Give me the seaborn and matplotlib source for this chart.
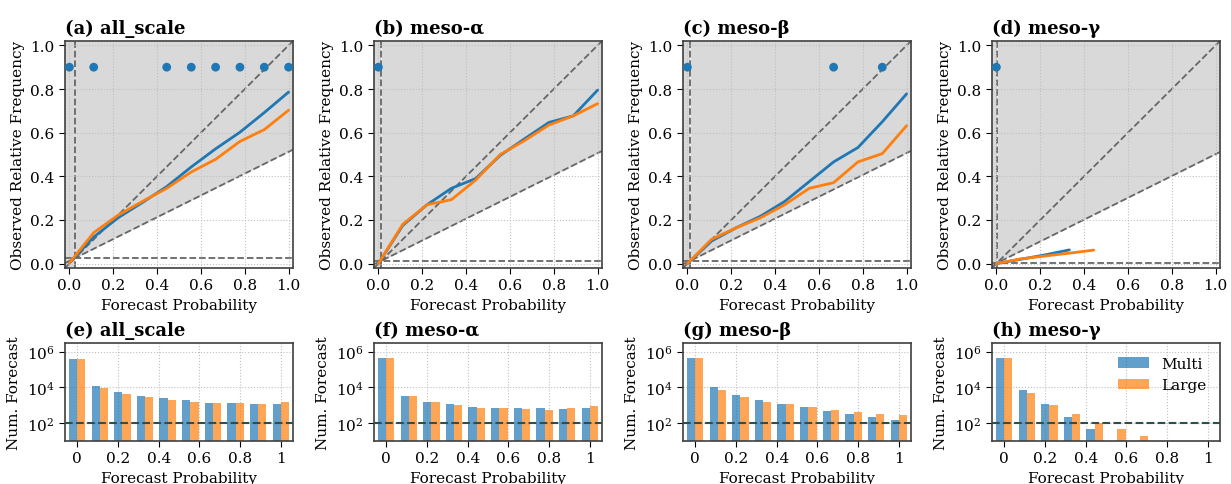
import numpy as np
import pandas as pd
import matplotlib
matplotlib.use("Agg")
import matplotlib.pyplot as plt
import seaborn as sns

sns.set_style("ticks")
plt.rcParams['font.family'] = ['DejaVu Serif']
plt.rcParams['mathtext.fontset'] = 'dejavuserif'
plt.rcParams['axes.axisbelow'] = 'line'
for k in ['text.color', 'axes.labelcolor', 'xtick.color', 'ytick.color']:
    plt.rcParams[k] = 'black'

# ---- data ----
panels = ["all_scale", "meso-α", "meso-β", "meso-γ"]
letters_top = ["(a)", "(b)", "(c)", "(d)"]
letters_bot = ["(e)", "(f)", "(g)", "(h)"]
prob_bins = [0.0, 0.111, 0.222, 0.333, 0.444, 0.556, 0.667, 0.778, 0.889, 1.0]
clim = [0.025, 0.012, 0.013, 0.003]

# observed relative frequency (reliability curves)
rel_multi_all = [0.003, 0.122, 0.21, 0.28, 0.353, 0.443, 0.526, 0.602, 0.692, 0.786]
rel_large_all = [0.003, 0.142, 0.222, 0.285, 0.345, 0.42, 0.478, 0.56, 0.614, 0.703]
rel_multi_alpha = [0.0, 0.175, 0.27, 0.345, 0.39, 0.496, 0.572, 0.647, 0.677, 0.795]
rel_large_alpha = [0.0, 0.18, 0.27, 0.293, 0.383, 0.5, 0.564, 0.635, 0.677, 0.733]
rel_multi_beta = [0.0, 0.104, 0.164, 0.217, 0.285, 0.376, 0.466, 0.532, 0.65, 0.778]
rel_large_beta = [0.0, 0.112, 0.164, 0.21, 0.27, 0.345, 0.371, 0.466, 0.504, 0.632]
rel_multi_gamma = [0.0, 0.02, 0.04, 0.063]
rel_large_gamma = [0.0, 0.022, 0.035, 0.048, 0.062]

# bins flagged with a dot
sig_all = [0.0, 0.111, 0.444, 0.556, 0.667, 0.778, 0.889, 1.0]
sig_alpha = [0.0]
sig_beta = [0.0, 0.667, 0.889]
sig_gamma = [0.0]

# number of forecasts per bin
cnt_multi_all = [4.0e5, 1.2e4, 5.6e3, 3.4e3, 2.4e3, 1.9e3, 1.4e3, 1.3e3, 1.1e3, 1.1e3]
cnt_large_all = [4.0e5, 8.7e3, 4.2e3, 2.8e3, 2.0e3, 1.55e3, 1.35e3, 1.3e3, 1.2e3, 1.6e3]
cnt_multi_alpha = [4.4e5, 3.4e3, 1.55e3, 1.1e3, 840, 740, 710, 710, 620, 710]
cnt_large_alpha = [4.4e5, 3.1e3, 1.55e3, 1.05e3, 740, 710, 590, 570, 680, 910]
cnt_multi_beta = [4.4e5, 1.0e4, 3.8e3, 2.0e3, 1.2e3, 810, 500, 310, 210, 148]
cnt_large_beta = [4.4e5, 7.4e3, 2.9e3, 1.6e3, 1.2e3, 810, 550, 440, 310, 295]
cnt_multi_gamma = [4.4e5, 6.8e3, 1.1e3, 230, 44, np.nan, np.nan, np.nan, np.nan, np.nan]
cnt_large_gamma = [4.4e5, 5.0e3, 1.0e3, 310, 100, 44, 18, np.nan, np.nan, np.nan]

rel_multi = [rel_multi_all, rel_multi_alpha, rel_multi_beta, rel_multi_gamma]
rel_large = [rel_large_all, rel_large_alpha, rel_large_beta, rel_large_gamma]
sig_pts = [sig_all, sig_alpha, sig_beta, sig_gamma]
cnt_multi = [cnt_multi_all, cnt_multi_alpha, cnt_multi_beta, cnt_multi_gamma]
cnt_large = [cnt_large_all, cnt_large_alpha, cnt_large_beta, cnt_large_gamma]

blue = "#1f77b4"
orange = "#ff7f0e"

fig = plt.figure(figsize=(12.31, 4.85), dpi=100)
W, H = 1231, 485
lefts = [65, 374, 683, 992]
aw = 228

for i in range(4):
    # ---- reliability diagram ----
    ax = fig.add_axes([lefts[i] / W, 1 - 269 / H, aw / W, 227 / H])
    c = clim[i]
    lo, hi = -0.02, 1.02
    xs = np.array([c, hi])
    ax.fill_between([lo, c], lo, hi, color="#d9d9d9", lw=0, zorder=0.5)
    ax.fill_between(xs, (xs + c) / 2, hi, color="#d9d9d9", lw=0, zorder=0.5)
    ax.plot([lo, hi], [lo, hi], ls="--", color="0.4", lw=1.3, zorder=1)
    ax.plot([lo, hi], [(lo + c) / 2, (hi + c) / 2], ls="--", color="0.4", lw=1.3, zorder=1)
    ax.axhline(c, ls="--", color="0.4", lw=1.3, zorder=1)
    ax.axvline(c, ls="--", color="0.4", lw=1.3, zorder=1)

    dm = pd.DataFrame({"x": prob_bins[:len(rel_multi[i])], "y": rel_multi[i]})
    dl = pd.DataFrame({"x": prob_bins[:len(rel_large[i])], "y": rel_large[i]})
    sns.lineplot(data=dm, x="x", y="y", color=blue, lw=2, ax=ax, zorder=3)
    sns.lineplot(data=dl, x="x", y="y", color=orange, lw=2, ax=ax, zorder=3)
    ds = pd.DataFrame({"x": sig_pts[i], "y": [0.9] * len(sig_pts[i])})
    sns.scatterplot(data=ds, x="x", y="y", color=blue, s=40, edgecolor="none",
                    ax=ax, zorder=4, clip_on=False)

    ax.set_xlim(lo, hi)
    ax.set_ylim(lo, hi)
    ticks = [0.0, 0.2, 0.4, 0.6, 0.8, 1.0]
    ax.set_xticks(ticks)
    ax.set_yticks(ticks)
    ax.tick_params(labelsize=11, length=4)
    ax.grid(True, ls=":", color="0.75", lw=0.8)
    ax.set_xlabel("Forecast Probability", fontsize=11)
    ax.set_ylabel("Observed Relative Frequency", fontsize=11)
    ax.set_title(f"{letters_top[i]} {panels[i]}", loc="left", fontsize=13,
                 fontweight="bold")
    for sp in ax.spines.values():
        sp.set_color("0.25")
        sp.set_linewidth(1.2)

    # ---- histogram of forecasts ----
    bx = fig.add_axes([lefts[i] / W, 1 - 442 / H, aw / W, 98 / H])
    bx.set_axisbelow(True)
    db = pd.DataFrame({
        "prob": prob_bins * 2,
        "count": list(cnt_multi[i]) + list(cnt_large[i]),
        "model": ["Multi"] * 10 + ["Large"] * 10,
    })
    sns.barplot(data=db, x="prob", y="count", hue="model", native_scale=True,
                palette=[blue, orange], alpha=0.7, width=0.72, errorbar=None,
                saturation=1, linewidth=0, ax=bx)
    bx.set_yscale("log")
    bx.set_ylim(10, 3e6)
    bx.set_xlim(-0.06, 1.06)
    bx.set_yticks([1e2, 1e4, 1e6])
    bx.yaxis.set_minor_locator(matplotlib.ticker.NullLocator())
    bx.set_xticks([0, 0.2, 0.4, 0.6, 0.8, 1.0])
    bx.set_xticklabels(["0", "0.2", "0.4", "0.6", "0.8", "1"])
    bx.tick_params(labelsize=11, length=4)
    bx.axhline(100, ls="--", color="#2f4f4f", lw=1.5, zorder=3)
    bx.grid(True, ls=":", color="0.75", lw=0.8)
    bx.set_xlabel("Forecast Probability", fontsize=11)
    bx.set_ylabel("Num. Forecast", fontsize=11)
    bx.set_title(f"{letters_bot[i]} {panels[i]}", loc="left", fontsize=13,
                 fontweight="bold")
    for sp in bx.spines.values():
        sp.set_color("0.25")
        sp.set_linewidth(1.2)
    if i == 3:
        bx.legend(loc="upper right", frameon=False, fontsize=11, title=None)
    else:
        bx.get_legend().remove()

fig.savefig("out.png", dpi=100)
